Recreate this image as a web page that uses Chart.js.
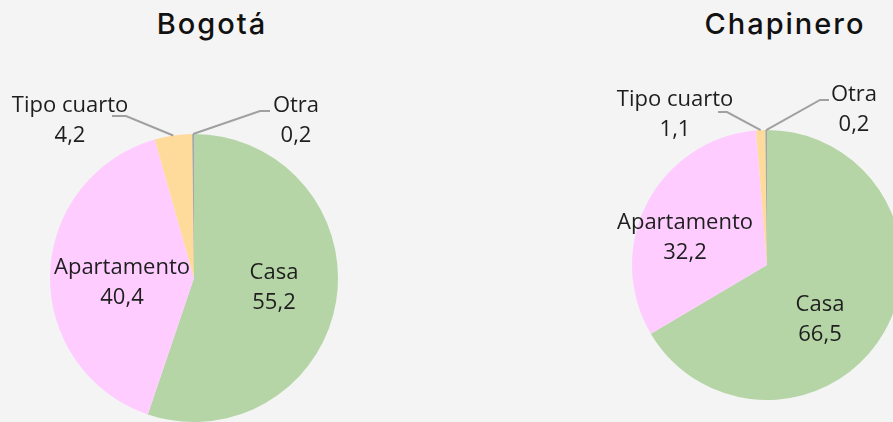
<!DOCTYPE html>
<html lang="es">
<head>
<meta charset="utf-8">
<script src="https://cdn.jsdelivr.net/npm/chart.js@4"></script>
<style>
  html, body { margin: 0; padding: 0; }
  body {
    width: 893px; height: 422px; overflow: hidden; position: relative;
    background: #f4f4f4;
  }
  .titulo {
    position: absolute; top: 9px; width: 300px; margin-left: -150px;
    text-align: center; font-family: Inter, sans-serif; font-weight: 500;
    font-size: 29px; line-height: 1; color: #111; letter-spacing: 2px;
  }
  canvas { position: absolute; top: 0; }
</style>
</head>
<body>
<div class="titulo" style="left:212px">Bogotá</div>
<div class="titulo" style="left:785px">Chapinero</div>
<canvas id="bogota" width="446" height="440" style="left:0"></canvas>
<canvas id="chapinero" width="500" height="440" style="left:446px"></canvas>
<script>
  const categorias = ['Casa', 'Apartamento', 'Tipo cuarto', 'Otra'];
  const valoresBogota = [55.2, 40.4, 4.2, 0.2];
  const valoresChapinero = [66.5, 32.2, 1.1, 0.2];
  const colores = ['#b5d5a6', '#ffccff', '#ffdb9b', '#a6a6a6'];

  // posicion de cada etiqueta respecto al centro del pie: [dx, dy]
  // y para las de afuera, el codo y el final de la linea guia
  const etiquetasBogota = [
    { dx: 80, dy: -5 },
    { dx: -72, dy: -10 },
    { dx: -124, dy: -172, codo: [-68, -162], fin: [-82, -162] },
    { dx: 102, dy: -172, codo: [66, -167], fin: [76, -167] }
  ];
  const etiquetasChapinero = [
    { dx: 53, dy: 40 },
    { dx: -82, dy: -42 },
    { dx: -92, dy: -165, codo: [-40, -153], fin: [-49, -153] },
    { dx: 87, dy: -170, codo: [53, -165], fin: [62, -165] }
  ];

  const fmt = v => v.toFixed(1).replace('.', ',');

  const etiquetasPlugin = {
    id: 'etiquetas',
    afterDatasetsDraw(chart, args, opts) {
      const ctx = chart.ctx;
      const arcs = chart.getDatasetMeta(0).data;
      const valores = chart.data.datasets[0].data;
      ctx.save();
      arcs.forEach((arc, i) => {
        const lay = opts.layout[i];
        const { x, y, startAngle, endAngle, outerRadius } = arc.getProps(['x', 'y', 'startAngle', 'endAngle', 'outerRadius'], true);
        if (lay.codo) {
          const mid = (startAngle + endAngle) / 2;
          ctx.strokeStyle = '#a0a0a0';
          ctx.lineWidth = 2;
          ctx.beginPath();
          ctx.moveTo(x + Math.cos(mid) * outerRadius, y + Math.sin(mid) * outerRadius);
          ctx.lineTo(x + lay.codo[0], y + lay.codo[1]);
          ctx.lineTo(x + lay.fin[0], y + lay.fin[1]);
          ctx.stroke();
        }
        ctx.fillStyle = '#1e1e1e';
        ctx.font = '22px "Open Sans"';
        ctx.textAlign = 'center';
        ctx.textBaseline = 'middle';
        ctx.fillText(chart.data.labels[i], x + lay.dx, y + lay.dy);
        ctx.fillText(fmt(valores[i]), x + lay.dx, y + lay.dy + 30);
      });
      ctx.restore();
    }
  };

  function pie(id, valores, layout, padding) {
    return new Chart(document.getElementById(id), {
      type: 'pie',
      data: {
        labels: categorias,
        datasets: [{
          data: valores,
          backgroundColor: colores,
          borderWidth: 0
        }]
      },
      options: {
        responsive: false,
        animation: false,
        devicePixelRatio: 1,
        layout: { padding },
        plugins: {
          legend: { display: false },
          tooltip: { enabled: false },
          etiquetas: { layout }
        }
      },
      plugins: [etiquetasPlugin]
    });
  }

  document.fonts.load('22px "Open Sans"').then(() => {
    pie('bogota', valoresBogota, etiquetasBogota, { left: 50, right: 108, top: 134, bottom: 18 });
    pie('chapinero', valoresChapinero, etiquetasChapinero, { left: 186, right: 44, top: 130, bottom: 40 });
  });
</script>
</body>
</html>
